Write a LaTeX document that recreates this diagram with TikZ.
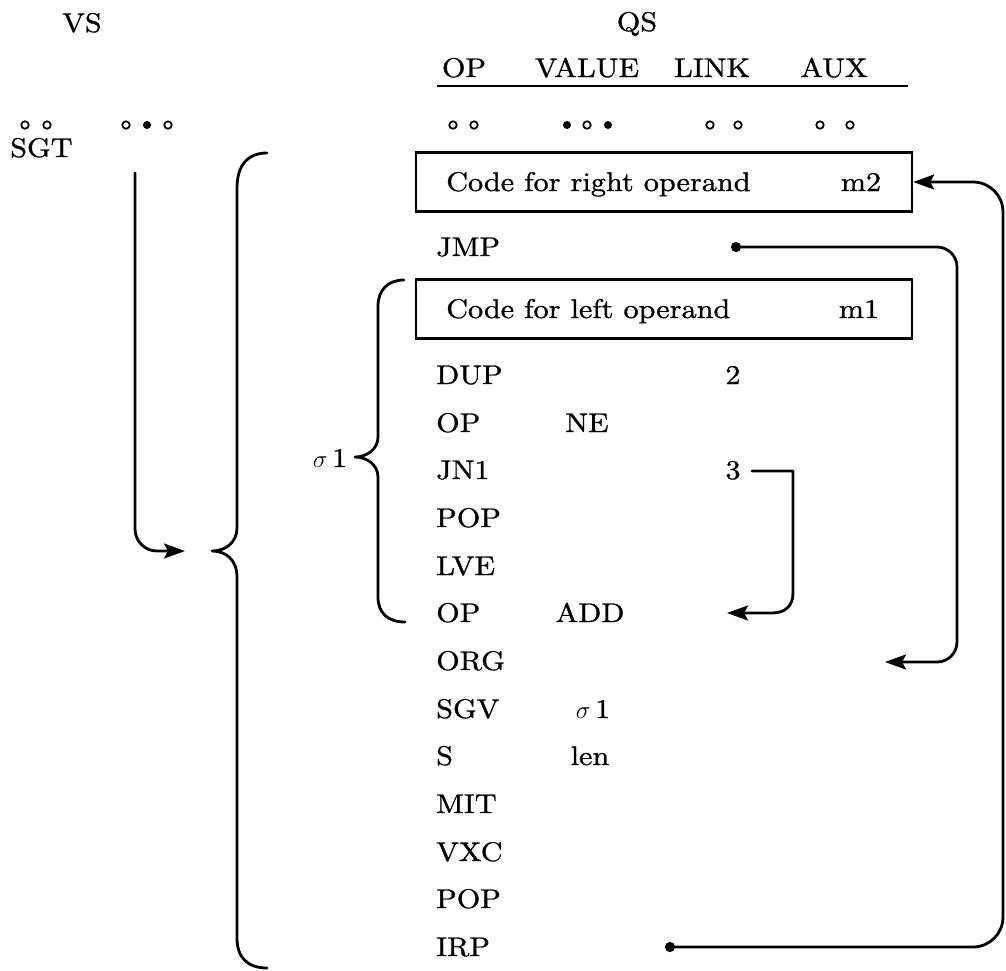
\documentclass[tikz,border=0pt]{standalone}
\usepackage{fontspec}
\setmainfont{lmroman10-regular.otf}[FakeStretch=1.12, FakeBold=1]
\usetikzlibrary{arrows.meta}
\begin{document}
\begin{tikzpicture}[x=1pt,y=-1pt,
  txt/.style={font=\fontsize{27}{31}\selectfont, inner sep=0pt},
  lbl/.style={txt, anchor=base},
  opc/.style={txt, anchor=base west},
  wire/.style={line width=2.8pt, line cap=round, line join=round},
  boxst/.style={draw, line width=2.4pt, minimum width=496pt, minimum height=59pt, inner sep=0pt},
  hdot/.style={circle, draw, fill=white, line width=1.7pt, minimum size=7.5pt, inner sep=0pt},
  sdot/.style={circle, fill, minimum size=8pt, inner sep=0pt},
  arr/.style={-{Stealth[length=21pt,width=15pt,inset=4pt]}},
  dotarr/.style={{Circle[length=10pt]}-{Stealth[length=21pt,width=15pt,inset=4pt]}}
]
\useasboundingbox (0,0) rectangle (1006,970);

% headers
\node[lbl] (vs) at (82,32) {VS};
\node[lbl] (qs) at (637,31) {QS};
\node[lbl] (hop) at (464,77) {OP};
\node[lbl] (hval) at (587,77) {VALUE};
\node[lbl] (hlink) at (712,77) {LINK};
\node[lbl] (haux) at (834,77) {AUX};
\coordinate (ul1) at (437,86);
\coordinate (ul2) at (908,86);
\draw[line width=2pt] (ul1) -- (ul2);

% dots
\node[hdot] (d1) at (25,125) {};
\node[hdot] (d2) at (47,125) {};
\node[hdot] (d3) at (126,125) {};
\node[sdot] (d4) at (147,125) {};
\node[hdot] (d5) at (168,125) {};
\node[hdot] (d6) at (453,125) {};
\node[hdot] (d7) at (474,125) {};
\node[sdot] (d8) at (567,125) {};
\node[hdot] (d9) at (587,125) {};
\node[sdot] (d10) at (608,125) {};
\node[hdot] (d11) at (710,125) {};
\node[hdot] (d12) at (738,125) {};
\node[hdot] (d13) at (820,125) {};
\node[hdot] (d14) at (850,125) {};

\node[opc] (sgt) at (10,157) {SGT};

% boxes
\node[boxst] (box1) at (664,182) {};
\node[opc] (rtext) at (446,191) {Code for right operand};
\node[lbl] (m2) at (861,191) {m2};
\node[boxst] (box2) at (664,309) {};
\node[opc] (ltext) at (446,318) {Code for left operand};
\node[lbl] (m1) at (859,318) {m1};

% rows
\node[opc] (jmp) at (436,256) {JMP};
\node[opc] (dup) at (436,384) {DUP};
\node[lbl] (two) at (733,384) {2};
\node[opc] (op1) at (436,432) {OP};
\node[lbl] (ne) at (587,432) {NE};
\node[opc] (jn1) at (436,479) {JN1};
\node[lbl] (three) at (733,479) {3};
\node[opc] (pop1) at (436,527) {POP};
\node[opc] (lve) at (436,575) {LVE};
\node[opc] (op2) at (436,622) {OP};
\node[lbl] (add) at (590,622) {ADD};
\node[opc] (org) at (436,670) {ORG};
\node[opc] (sgv) at (436,718) {SGV};
\node[lbl] (sig) at (593,718) {$\sigma$\,1};
\node[opc] (s) at (436,765) {S};
\node[lbl] (len) at (590,765) {len};
\node[opc] (mit) at (436,813) {MIT};
\node[opc] (vxc) at (436,861) {VXC};
\node[opc] (pop2) at (436,908) {POP};
\node[opc] (irp) at (436,956) {IRP};

% sigma1 label and brace
\node[lbl] (siglbl) at (330,467) {$\sigma$\,1};
\draw[wire] (404,280) .. controls (388,280) and (378,290) .. (378,306) -- (378,437)
  .. controls (378,449) and (367,457) .. (355,457)
  .. controls (367,457) and (378,465) .. (378,477) -- (378,597)
  .. controls (378,613) and (388,622) .. (405,622);

% big brace
\draw[wire] (267,153) .. controls (248,153) and (237,165) .. (237,188) -- (237,528)
  .. controls (237,542) and (226,551) .. (212,551)
  .. controls (226,551) and (237,560) .. (237,577) -- (237,938)
  .. controls (237,958) and (248,968) .. (267,968);

% left arrow from SGT
\coordinate (sgtl) at (135,173);
\coordinate (lt) at (185,551);
\draw[wire, arr, rounded corners=22pt] (sgtl) -- (135,551) -- (lt);

% JMP connector
\coordinate (jd) at (731,247);
\coordinate (orgarr) at (885,662);
\draw[wire, dotarr, rounded corners=20pt] (jd) -- (957,247) -- (957,662) -- (orgarr);

% JN1 connector
\coordinate (jn3) at (752,471);
\coordinate (addarr) at (727,613);
\draw[wire, arr] (jn3) -- (793,471) -- (793,593)
  .. controls (793,606) and (785,613) .. (772,613) -- (addarr);

% IRP connector
\coordinate (irpd) at (665,947);
\draw[wire, dotarr, rounded corners=30pt] (irpd) -- (1003,947) -- (1003,182) -- (box1.east);
\end{tikzpicture}
\end{document}
